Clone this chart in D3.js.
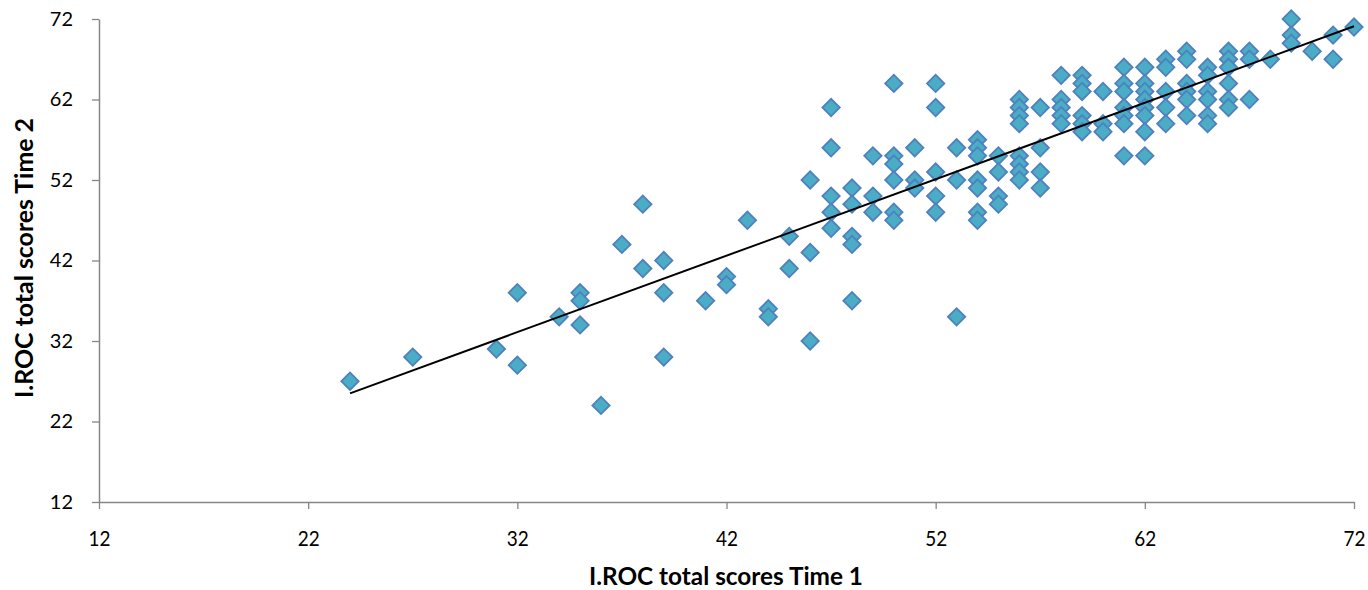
<!DOCTYPE html>
<html>
<head>
<meta charset="utf-8">
<script src="https://cdn.jsdelivr.net/npm/d3@7"></script>
<style>
  html, body { margin: 0; padding: 0; background: #fff; }
  svg { display: block; }
</style>
</head>
<body>
<svg id="chart" width="1368" height="590"></svg>
<script>
// Data: I.ROC total scores Time 1 (x) vs Time 2 (y)
const time1 = [24,27,31,32,32,34,35,35,35,36,37,38,38,39,39,39,41,42,42,43,44,44,45,45,46,46,46,
  47,47,47,47,47,48,48,48,48,48,49,49,49,50,50,50,50,50,50,51,51,51,52,52,52,52,52,53,53,53,
  54,54,54,54,54,54,54,55,55,55,55,56,56,56,56,56,56,56,56,57,57,57,57,58,58,58,58,58,
  59,59,59,59,59,59,60,60,60,61,61,61,61,61,61,61,62,62,62,62,62,62,62,62,63,63,63,63,63,
  64,64,64,64,64,64,65,65,65,65,65,65,66,66,66,66,66,66,67,67,67,68,69,69,69,70,71,71,72];
const time2 = [27,30,31,38,29,35,38,37,34,24,44,49,41,42,38,30,37,40,39,47,36,35,45,41,52,43,32,
  61,56,50,48,46,51,49,45,44,37,55,50,48,64,55,54,52,48,47,56,52,51,64,61,53,50,48,56,52,35,
  57,56,55,52,51,48,47,55,53,50,49,62,61,60,59,55,54,53,52,61,56,53,51,65,62,61,60,59,
  65,64,63,60,59,58,63,59,58,66,64,63,61,60,59,55,66,64,63,62,61,60,58,55,67,66,63,61,59,
  68,67,64,63,62,60,66,65,63,62,60,59,68,67,66,64,62,61,68,67,62,67,72,70,69,68,70,67,71];
const trendX = [24, 72];
const trendY = [25.5, 71.1];
const tickValues = [12, 22, 32, 42, 52, 62, 72];
const xTitle = "I.ROC total scores Time 1";
const yTitle = "I.ROC total scores Time 2";

const svg = d3.select("#chart");
const x = d3.scaleLinear().domain([12, 72]).range([99, 1354]);
const y = d3.scaleLinear().domain([12, 72]).range([502, 19]);
const axisColor = "#868686";
const font = "Lato, 'Open Sans', sans-serif";

// Axes
const xAxis = svg.append("g").attr("transform", "translate(0,502)")
  .call(d3.axisBottom(x).tickValues(tickValues).tickSize(7).tickSizeOuter(0).tickPadding(21));
const yAxis = svg.append("g").attr("transform", "translate(99,0)")
  .call(d3.axisLeft(y).tickValues(tickValues).tickSize(7).tickSizeOuter(0).tickPadding(19));
[xAxis, yAxis].forEach(g => {
  g.select(".domain").attr("stroke", axisColor).attr("stroke-width", 1.5);
  g.selectAll(".tick line").attr("stroke", axisColor).attr("stroke-width", 1.3);
  g.selectAll(".tick text").attr("fill", "#000").style("font-family", font).style("font-size", "20px");
});
xAxis.selectAll(".tick text").style("font-size", "22px")
  .attr("textLength", 22).attr("lengthAdjust", "spacingAndGlyphs");

// Points (diamonds)
const diamond = d3.symbol().type(d3.symbolSquare).size(150);
svg.append("g").selectAll("path")
  .data(time1.map((v, i) => [v, time2[i]]))
  .join("path")
  .attr("d", diamond)
  .attr("transform", d => `translate(${x(d[0])},${y(d[1])}) rotate(45)`)
  .attr("fill", "#4BACC6")
  .attr("stroke", "#4F81BD")
  .attr("stroke-width", 1.8);

// Trend line
svg.append("line")
  .attr("x1", x(trendX[0])).attr("y1", y(trendY[0]))
  .attr("x2", x(trendX[1])).attr("y2", y(trendY[1]))
  .attr("stroke", "#000").attr("stroke-width", 2);

// Titles
svg.append("text").attr("x", 726).attr("y", 585)
  .attr("text-anchor", "middle")
  .attr("textLength", 274).attr("lengthAdjust", "spacingAndGlyphs")
  .style("font-family", font).style("font-size", "24px").style("font-weight", "bold")
  .text(xTitle);
svg.append("text").attr("transform", "translate(33,258) rotate(-90)")
  .attr("text-anchor", "middle")
  .attr("textLength", 280).attr("lengthAdjust", "spacingAndGlyphs")
  .style("font-family", font).style("font-size", "24px").style("font-weight", "bold")
  .text(yTitle);
</script>
</body>
</html>
